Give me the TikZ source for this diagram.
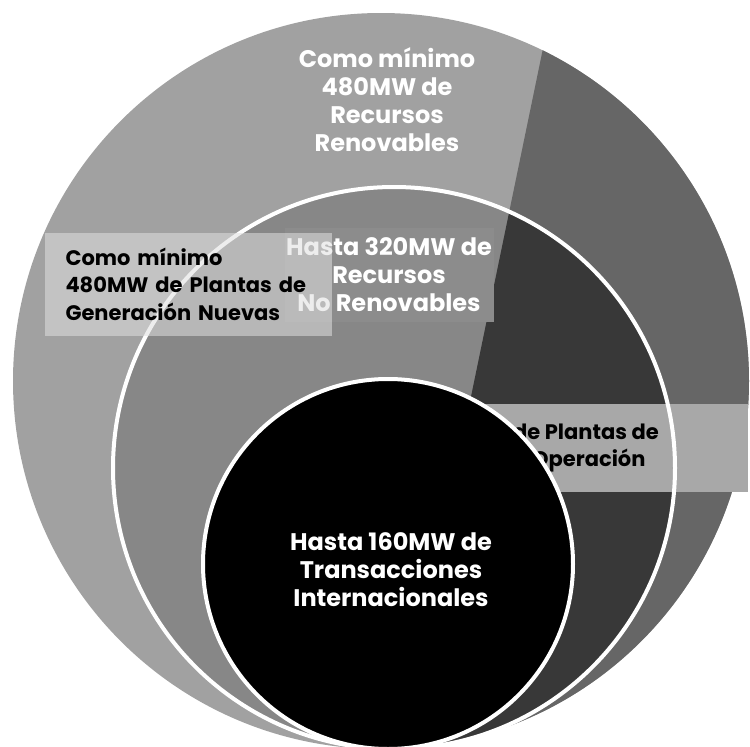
\documentclass[tikz,border=0pt]{standalone}
\usepackage{fontspec}
\setmainfont{Poppins}
\usetikzlibrary{positioning}

\definecolor{outerlight}{gray}{0.63}
\definecolor{outerdark}{gray}{0.40}
\definecolor{midlight}{gray}{0.53}
\definecolor{middark}{gray}{0.22}
\definecolor{bandgray}{gray}{0.66}
\definecolor{boxlight}{gray}{0.88}
\definecolor{boxmid}{gray}{0.55}

\tikzset{
  whitetext/.style={text=white, font=\bfseries\fontsize{24}{28}\selectfont, align=center},
  blacktext/.style={text=black, font=\bfseries\fontsize{21}{27.5}\selectfont},
  ringline/.style={draw=white, line width=4pt},
}

\begin{document}
\begin{tikzpicture}[x=1pt,y=-1pt]
\useasboundingbox (0,0) rectangle (750,747);
\coordinate (outerc) at (381,381);
\coordinate (midc) at (394,468);
\coordinate (innerc) at (388,564);
\coordinate (cuttop) at (553,0);
\coordinate (cutbot) at (400,740);

% outer ring
\fill[outerlight] (outerc) circle[radius=368pt];
\begin{scope}
  \clip (outerc) circle[radius=368pt];
  \fill[outerdark] (cuttop) -- (cutbot) -- (770,770) -- (770,-10) -- cycle;
\end{scope}

% middle ring
\fill[midlight] (midc) circle[radius=281pt];
\begin{scope}
  \clip (midc) circle[radius=281pt];
  \fill[middark] (cuttop) -- (cutbot) -- (770,770) -- (770,-10) -- cycle;
\end{scope}

\node[fill=bandgray, minimum width=448pt, minimum height=88pt, inner sep=0pt] (band) at (524,448) {};
\node[blacktext, align=center] (operacion) at (508,448)
  {Hasta 480MW de Plantas de\\Generación en Operación};

\draw[ringline] (midc) circle[radius=281pt];

\node[whitetext, fill=boxmid, minimum width=209pt, minimum height=94pt, inner sep=0pt]
  (norenov) at (389,275) {Hasta 320MW de\\Recursos\\No Renovables};

\node[blacktext, align=left, fill=boxlight, fill opacity=0.55, text opacity=1,
      text width=245pt, inner xsep=21pt, inner ysep=0pt, minimum height=103pt]
  (nuevas) at (188,284) {Como mínimo\\480MW de Plantas de\\Generación Nuevas};

% inner circle
\fill[black] (innerc) circle[radius=185pt];
\draw[ringline] (innerc) circle[radius=185pt];

\node[whitetext] (intl) at (391,570) {Hasta 160MW de\\Transacciones\\Internacionales};
\node[whitetext] (renov) at (387,100) {Como mínimo\\480MW de\\Recursos\\Renovables};
\end{tikzpicture}
\end{document}
